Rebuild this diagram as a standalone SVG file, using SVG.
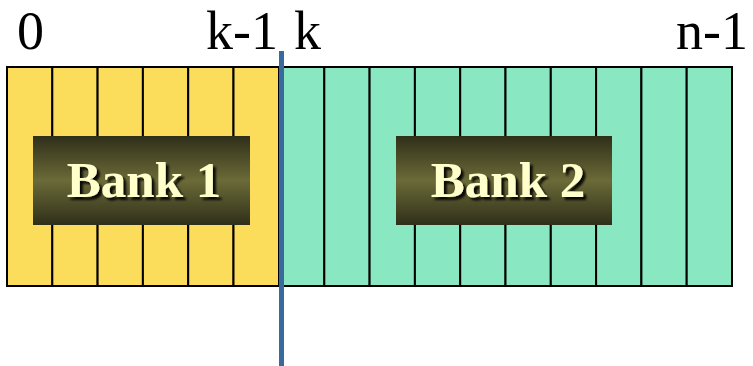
<svg xmlns="http://www.w3.org/2000/svg" width="753" height="366" viewBox="0 0 753 366">
  <style>
    .idx { font-family: "Liberation Serif", "Times New Roman", serif; font-size: 54px; fill: #000; }
    .cell { stroke: #000; stroke-width: 2; }
    .b1 { fill: #fcdd5b; }
    .b2 { fill: #89e8c1; }
    .label { font-family: "Liberation Serif", "Times New Roman", serif; font-weight: bold; font-size: 51px; fill: #ffffcc; }
  </style>
  <defs>
    <linearGradient id="plate" x1="0" y1="0" x2="0" y2="1">
      <stop offset="0" stop-color="#2f2f1a"/>
      <stop offset="0.5" stop-color="#6b6a38"/>
      <stop offset="1" stop-color="#2f2f1a"/>
    </linearGradient>
    <filter id="shadow" x="-10%" y="-20%" width="130%" height="150%">
      <feDropShadow dx="3" dy="3" stdDeviation="1.2" flood-color="#000" flood-opacity="0.9"/>
    </filter>
  </defs>

  <!-- index labels -->
  <text class="idx" x="17" y="49">0</text>
  <text class="idx" x="278" y="49" text-anchor="end">k-1</text>
  <text class="idx" x="294" y="49">k</text>
  <text class="idx" x="748" y="49" text-anchor="end">n-1</text>

  <!-- bank 1: cells 0 .. k-1 -->
  <g id="bank1">
    <rect class="cell b1" x="7" y="67" width="45.3" height="219"/>
    <rect class="cell b1" x="52.3" y="67" width="45.3" height="219"/>
    <rect class="cell b1" x="97.6" y="67" width="45.3" height="219"/>
    <rect class="cell b1" x="142.9" y="67" width="45.3" height="219"/>
    <rect class="cell b1" x="188.2" y="67" width="45.3" height="219"/>
    <rect class="cell b1" x="233.5" y="67" width="45.5" height="219"/>
    <rect x="33" y="136" width="217" height="89" fill="url(#plate)"/>
    <text class="label" x="144" y="197" text-anchor="middle" filter="url(#shadow)">Bank 1</text>
  </g>

  <!-- bank 2: cells k .. n-1 -->
  <g id="bank2">
    <rect class="cell b2" x="279" y="67" width="45.3" height="219"/>
    <rect class="cell b2" x="324.3" y="67" width="45.3" height="219"/>
    <rect class="cell b2" x="369.6" y="67" width="45.3" height="219"/>
    <rect class="cell b2" x="414.9" y="67" width="45.3" height="219"/>
    <rect class="cell b2" x="460.2" y="67" width="45.3" height="219"/>
    <rect class="cell b2" x="505.5" y="67" width="45.3" height="219"/>
    <rect class="cell b2" x="550.8" y="67" width="45.3" height="219"/>
    <rect class="cell b2" x="596.1" y="67" width="45.3" height="219"/>
    <rect class="cell b2" x="641.4" y="67" width="45.3" height="219"/>
    <rect class="cell b2" x="686.7" y="67" width="45.3" height="219"/>
    <rect x="396" y="136" width="216" height="89" fill="url(#plate)"/>
    <text class="label" x="508" y="197" text-anchor="middle" filter="url(#shadow)">Bank 2</text>
  </g>

  <!-- bank boundary -->
  <g id="connectors">
    <line x1="281.5" y1="51" x2="281.5" y2="366" stroke="#386a9c" stroke-width="5"/>
  </g>
</svg>
